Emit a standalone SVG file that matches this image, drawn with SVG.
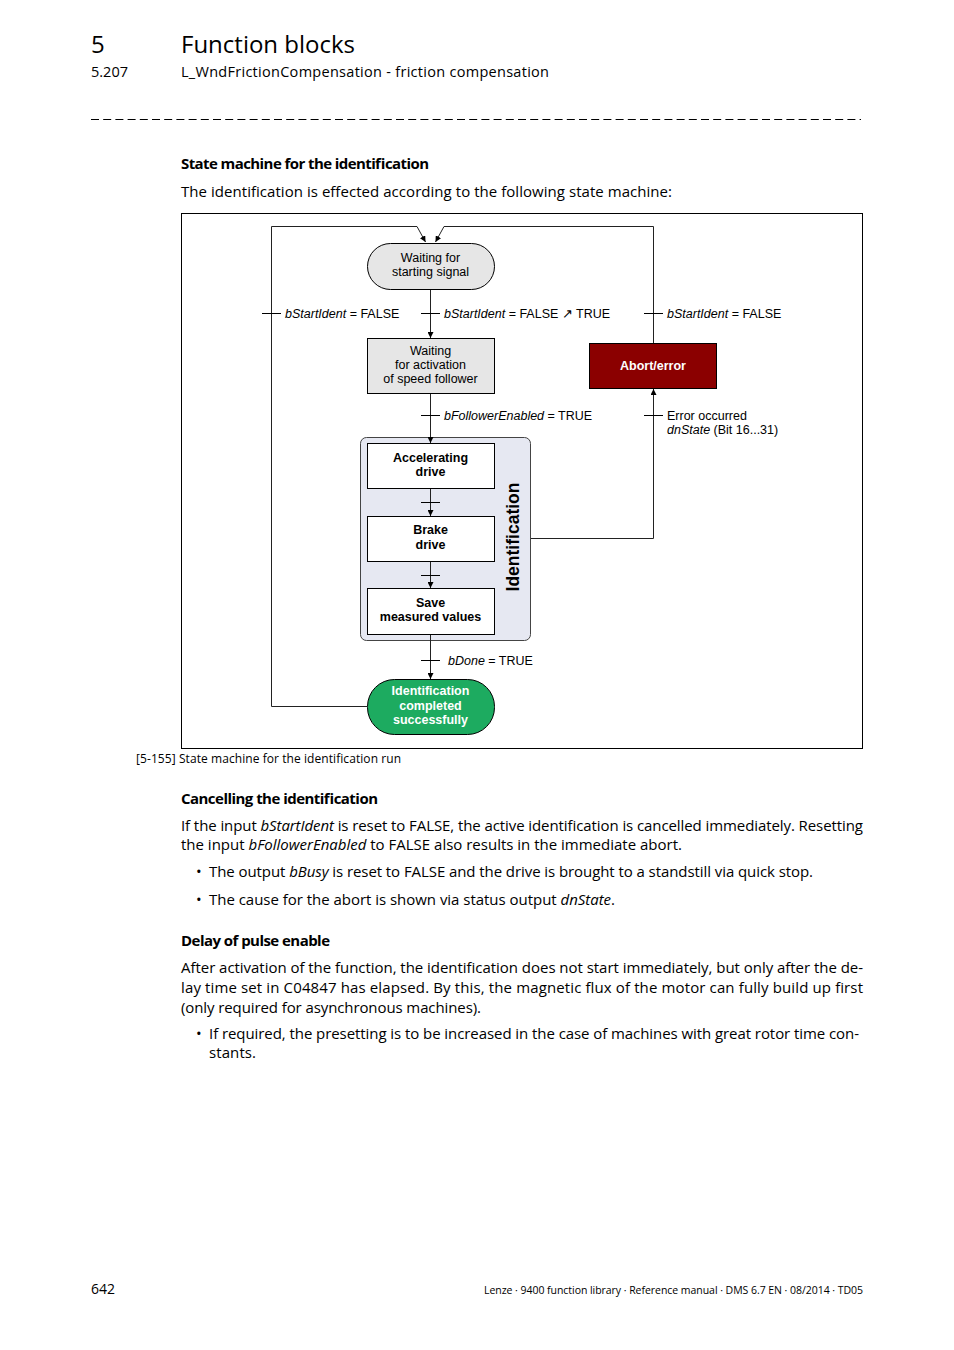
<svg xmlns="http://www.w3.org/2000/svg" width="954" height="1350" viewBox="0 0 954 1350">
<defs>
<marker id="ah" viewBox="0 0 10 10" refX="10" refY="5" markerWidth="6" markerHeight="6" markerUnits="userSpaceOnUse" orient="auto">
<path d="M0,0 L10,5 L0,10 z" fill="#000"/>
</marker>
<style>
.pg{font-family:"Open Sans","Noto Sans",sans-serif;fill:#000}
.h{font-size:15px}
.b{font-weight:bold}
.dg{font-family:"Liberation Sans",Arial,sans-serif;font-size:12.5px;fill:#000}
.c{text-anchor:middle}
.w{fill:#fff;font-weight:bold}
.ln{fill:none;stroke:#222;stroke-width:1}
.tk{stroke:#000;stroke-width:1}
.box{fill:#e6e6e6;stroke:#000;stroke-width:1}
.wb{fill:#fff;stroke:#000;stroke-width:1}
.big{font-size:17.5px;font-weight:bold}
</style>
</defs>
<rect width="954" height="1350" fill="#fff"/>

<!-- header -->
<text class="pg" x="91" y="53" font-size="24">5</text>
<text class="pg" x="181" y="53" font-size="24">Function blocks</text>
<text class="pg" x="91" y="77" font-size="14.5">5.207</text>
<text class="pg" x="181" y="77" font-size="14.5" textLength="368">L_WndFrictionCompensation - friction compensation</text>
<line x1="91" y1="119.5" x2="861" y2="119.5" stroke="#000" stroke-width="1" stroke-dasharray="8 4.2"/>

<text class="pg h b" x="181" y="169" textLength="248">State machine for the identification</text>
<text class="pg h" x="181" y="197" textLength="491">The identification is effected according to the following state machine:</text>

<!-- diagram frame -->
<rect x="181.5" y="213.5" width="681" height="535" fill="none" stroke="#000" stroke-width="1"/>

<g id="n-waiting-start">
<rect class="box" x="367.5" y="243.5" width="127" height="46" rx="23"/>
<text class="dg c" x="430.5" y="262">Waiting for</text>
<text class="dg c" x="430.5" y="276">starting signal</text>
</g>

<g id="n-waiting-activation">
<rect class="box" x="367.5" y="338.5" width="127" height="55"/>
<text class="dg c" x="430.5" y="355">Waiting</text>
<text class="dg c" x="430.5" y="369">for activation</text>
<text class="dg c" x="430.5" y="383">of speed follower</text>
</g>

<g id="n-abort">
<rect x="589.5" y="343.5" width="127" height="45" fill="#8b0000" stroke="#000" stroke-width="1"/>
<text class="dg c w" x="653" y="370">Abort/error</text>
</g>

<g id="n-identification">
<rect x="360.5" y="437.5" width="170" height="203" rx="6" fill="#e6e8f2" stroke="#444" stroke-width="1"/>
<text class="dg c big" transform="translate(519,537) rotate(-90)">Identification</text>
</g>

<g id="n-accelerating">
<rect class="wb" x="367.5" y="443.5" width="127" height="45"/>
<text class="dg c b" x="430.5" y="462">Accelerating</text>
<text class="dg c b" x="430.5" y="476">drive</text>
</g>

<g id="n-brake">
<rect class="wb" x="367.5" y="516.5" width="127" height="45"/>
<text class="dg c b" x="430.5" y="534">Brake</text>
<text class="dg c b" x="430.5" y="549">drive</text>
</g>

<g id="n-save">
<rect class="wb" x="367.5" y="588.5" width="127" height="46"/>
<text class="dg c b" x="430.5" y="607">Save</text>
<text class="dg c b" x="430.5" y="621">measured values</text>
</g>

<g id="n-completed">
<rect x="367.5" y="679.5" width="127" height="55" rx="27" fill="#1dab60" stroke="#000" stroke-width="1"/>
<text class="dg c w" x="430.5" y="695">Identification</text>
<text class="dg c w" x="430.5" y="710">completed</text>
<text class="dg c w" x="430.5" y="724">successfully</text>
</g>

<!-- connectors -->
<g id="connectors">
<polyline class="ln" points="367,706.5 271.5,706.5 271.5,226.5 417,226.5 425.5,242" marker-end="url(#ah)"/>
<polyline class="ln" points="653.5,343 653.5,226.5 444,226.5 435.5,242" marker-end="url(#ah)"/>
<line class="ln" x1="430.5" y1="290" x2="430.5" y2="338" marker-end="url(#ah)"/>
<line class="ln" x1="430.5" y1="394" x2="430.5" y2="443" marker-end="url(#ah)"/>
<line class="ln" x1="430.5" y1="489" x2="430.5" y2="516" marker-end="url(#ah)"/>
<line class="ln" x1="430.5" y1="562" x2="430.5" y2="588" marker-end="url(#ah)"/>
<line class="ln" x1="430.5" y1="635" x2="430.5" y2="679" marker-end="url(#ah)"/>
<polyline class="ln" points="531,538.5 653.5,538.5 653.5,389" marker-end="url(#ah)"/>
<!-- ticks -->
<line class="tk" x1="262" y1="313.5" x2="281" y2="313.5"/>
<line class="tk" x1="421" y1="313.5" x2="440" y2="313.5"/>
<line class="tk" x1="644" y1="313.5" x2="663" y2="313.5"/>
<line class="tk" x1="421" y1="415.5" x2="440" y2="415.5"/>
<line class="tk" x1="644" y1="415.5" x2="663" y2="415.5"/>
<line class="tk" x1="421" y1="502.5" x2="440" y2="502.5"/>
<line class="tk" x1="421" y1="575.5" x2="440" y2="575.5"/>
<line class="tk" x1="421" y1="660.5" x2="440" y2="660.5"/>
</g>

<!-- labels -->
<g id="labels">
<text class="dg" x="285" y="318"><tspan font-style="italic">bStartIdent</tspan> = FALSE</text>
<text class="dg" x="444" y="318"><tspan font-style="italic">bStartIdent</tspan> = FALSE ↗ TRUE</text>
<text class="dg" x="667" y="318"><tspan font-style="italic">bStartIdent</tspan> = FALSE</text>
<text class="dg" x="444" y="420"><tspan font-style="italic">bFollowerEnabled</tspan> = TRUE</text>
<text class="dg" x="667" y="420">Error occurred</text>
<text class="dg" x="667" y="434"><tspan font-style="italic">dnState</tspan> (Bit 16...31)</text>
<text class="dg" x="448" y="665"><tspan font-style="italic">bDone</tspan> = TRUE</text>
</g>

<!-- caption and text -->
<text class="pg" x="136" y="763" font-size="12" textLength="265">[5-155]  State machine for the identification run</text>
<text class="pg h b" x="181" y="804" textLength="197">Cancelling the identification</text>
<text class="pg h" x="181" y="831" textLength="682">If the input <tspan font-style="italic">bStartIdent</tspan> is reset to FALSE, the active identification is cancelled immediately. Resetting</text>
<text class="pg h" x="181" y="850" textLength="501">the input <tspan font-style="italic">bFollowerEnabled</tspan> to FALSE also results in the immediate abort.</text>
<text class="pg h" x="196" y="877">•</text>
<text class="pg h" x="209" y="877" textLength="604">The output <tspan font-style="italic">bBusy</tspan> is reset to FALSE and the drive is brought to a standstill via quick stop.</text>
<text class="pg h" x="196" y="905">•</text>
<text class="pg h" x="209" y="905" textLength="406">The cause for the abort is shown via status output <tspan font-style="italic">dnState</tspan>.</text>

<text class="pg h b" x="181" y="946" textLength="149">Delay of pulse enable</text>
<text class="pg h" x="181" y="973" textLength="682">After activation of the function, the identification does not start immediately, but only after the de-</text>
<text class="pg h" x="181" y="993" textLength="682">lay time set in C04847 has elapsed. By this, the magnetic flux of the motor can fully build up first</text>
<text class="pg h" x="181" y="1013" textLength="300">(only required for asynchronous machines).</text>
<text class="pg h" x="196" y="1039">•</text>
<text class="pg h" x="209" y="1039" textLength="650">If required, the presetting is to be increased in the case of machines with great rotor time con-</text>
<text class="pg h" x="209" y="1058" textLength="47">stants.</text>

<!-- footer -->
<text class="pg" x="91" y="1294" font-size="14">642</text>
<text class="pg" x="863" y="1294" font-size="10.5" text-anchor="end" textLength="379">Lenze · 9400 function library · Reference manual · DMS 6.7 EN · 08/2014 · TD05</text>
</svg>
